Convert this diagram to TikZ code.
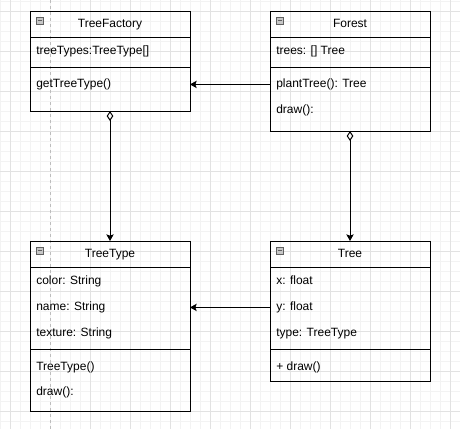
\documentclass[tikz,border=0pt]{standalone}
\usepackage{fontspec}
\setmainfont{Liberation Sans}
\usetikzlibrary{arrows.meta,positioning}
\definecolor{gridminor}{HTML}{F3F3F3}
\definecolor{gridmajor}{HTML}{E2E2E2}
\definecolor{pageline}{HTML}{BDBDBD}
\definecolor{iconfill}{HTML}{C6C6C6}

\begin{document}
\begin{tikzpicture}[x=0.75pt, y=-0.75pt,
	every node/.style={font=\fontsize{9pt}{11pt}\selectfont},
	classbox/.style={draw, line width=0.75pt, minimum width=120pt, inner sep=0pt, outer sep=0pt},
	divider/.style={line width=0.75pt},
	title/.style={anchor=mid, inner sep=0pt},
	member/.style={anchor=mid west, inner sep=0pt},
	icon/.style={draw=gray!75!black, fill=iconfill, minimum size=5.5pt, inner sep=0pt, line width=0.4pt,
		path picture={\draw[line width=0.6pt] ([xshift=1.2pt]path picture bounding box.west) -- ([xshift=-1.2pt]path picture bounding box.east);}},
	assoc/.style={line width=0.75pt, -{Stealth[length=5pt, width=5.5pt, inset=1pt]}},
	aggr/.style={line width=0.75pt, {Diamond[open, length=7.5pt, width=5pt]}-{Stealth[length=5pt, width=5.5pt, inset=1pt]}}]
	\useasboundingbox (0,0) rectangle (460,429);
	% grid
	\fill[white] (0,0) rectangle (460,429);
	\foreach \x in {0,10,...,460}
		\draw[gridminor, line width=0.6pt] (\x,0) -- (\x,429);
	\foreach \y in {1,11,...,421}
		\draw[gridminor, line width=0.6pt] (0,\y) -- (460,\y);
	\foreach \x in {10,90,130,...,450}
		\draw[gridmajor, line width=0.6pt] (\x,0) -- (\x,429);
	\foreach \y in {11,51,...,411}
		\draw[gridmajor, line width=0.6pt] (0,\y) -- (460,\y);
	\draw[pageline, line width=0.6pt, dash pattern=on 2.5pt off 2pt] (50,0) -- (50,429);
	
	\begin{scope}
		% TreeFactory
		\node[classbox, minimum height=75pt] (factory) at (110,61) {};
		\draw[divider] (factory.west |- 0,37) -- (factory.east |- 0,37);
		\draw[divider] (factory.west |- 0,67) -- (factory.east |- 0,67);
		\node[icon] (factoryIcon) at (39.7,20.8) {};
		\node[title] (factoryName) at (110,24) {TreeFactory};
		\node[member] (factoryTypes) at (36,51) {treeTypes:TreeType[]};
		\node[member] (factoryGet) at (36,84) {getTreeType()};
		
		% Forest
		\node[classbox, minimum height=90pt] (forest) at (350,71) {};
		\draw[divider] (forest.west |- 0,37) -- (forest.east |- 0,37);
		\draw[divider] (forest.west |- 0,67) -- (forest.east |- 0,67);
		\node[icon] (forestIcon) at (279.7,20.8) {};
		\node[title] (forestName) at (350,24) {Forest};
		\node[member] (forestTrees) at (276,51) {trees: [] Tree};
		\node[member] (forestPlant) at (276,84) {plantTree(): Tree};
		\node[member] (forestDraw) at (276,110) {draw():};
		
		% TreeType
		\node[classbox, minimum height=127.5pt] (treeType) at (110,326) {};
		\draw[divider] (treeType.west |- 0,267) -- (treeType.east |- 0,267);
		\draw[divider] (treeType.west |- 0,349) -- (treeType.east |- 0,349);
		\node[icon] (treeTypeIcon) at (39.7,250.8) {};
		\node[title] (treeTypeName) at (110,254) {TreeType};
		\node[member] (typeColor) at (36,281) {color: String};
		\node[member] (typeName) at (36,307) {name: String};
		\node[member] (typeTexture) at (36,333) {texture: String};
		\node[member] (typeCtor) at (36,367) {TreeType()};
		\node[member] (typeDraw) at (36,392) {draw():};
		
		% Tree
		\node[classbox, minimum height=105pt] (tree) at (350,311) {};
		\draw[divider] (tree.west |- 0,267) -- (tree.east |- 0,267);
		\draw[divider] (tree.west |- 0,349) -- (tree.east |- 0,349);
		\node[icon] (treeIcon) at (279.7,250.8) {};
		\node[title] (treeName) at (350,254) {Tree};
		\node[member] (treeX) at (276,281) {x: float};
		\node[member] (treeY) at (276,307) {y: float};
		\node[member] (treeKind) at (276,333) {type: TreeType};
		\node[member] (treeDraw) at (276,367) {+ draw()};
	\end{scope}
	
	\draw[assoc] (forest.west |- forestPlant.west) -- (factory.east |- forestPlant.west);
	\draw[aggr] (factory.south) -- (treeType.north);
	\draw[aggr] (forest.south) -- (tree.north);
	\draw[assoc] (tree.west |- treeY.west) -- (treeType.east |- treeY.west);
\end{tikzpicture}
\end{document}
